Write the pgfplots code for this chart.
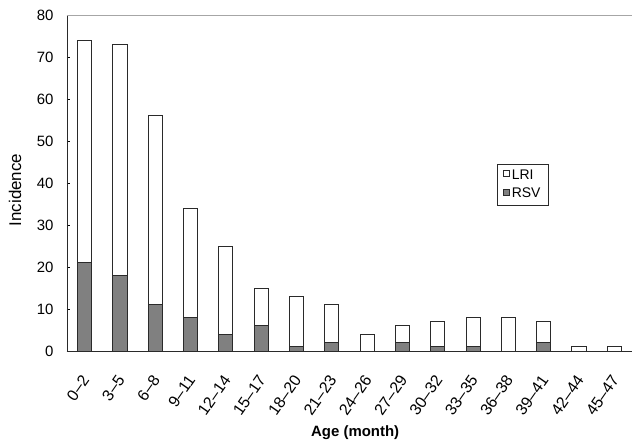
\documentclass[border=0pt]{standalone}
\usepackage{pgfplots}
\pgfplotsset{compat=1.18}
\usepackage{fontspec}
\setmainfont{Liberation Sans}
\definecolor{rsvgray}{HTML}{808080}
\definecolor{edge}{HTML}{2A2A2A}
\begin{document}
\begin{tikzpicture}
\begin{axis}[
  name=ax,
  scale only axis,
  width=565bp, height=336bp,
  xmin=-0.5, xmax=15.5,
  ymin=0, ymax=80,
  ytick={0,10,...,80},
  xtick={0,...,15},
  xticklabels={0--2,3--5,6--8,9--11,12--14,15--17,18--20,21--23,24--26,27--29,30--32,33--35,36--38,39--41,42--44,45--47},
  x tick style={draw=none},
  extra x ticks={0.5,1.5,...,14.5},
  extra x tick labels={},
  extra x tick style={tick style={draw=black,line width=0.8pt}, major tick length=4bp},
  tick align=inside,
  y tick style={black, line width=0.8pt},
  major tick length=3bp,
  axis x line*=bottom,
  axis y line*=left,
  axis line style={edge, line width=1pt, -},
  /pgf/number format/assume math mode=true,
  tick label style={font=\fontsize{15}{15}\selectfont},
  yticklabel style={xshift=-10bp},
  xticklabel style={font=\fontsize{16}{16}\selectfont, yshift=-26bp, xshift=1bp, rotate=55, anchor=east, inner sep=0pt},
  xlabel={\textbf{Age (month)}},
  xlabel style={at={(axis description cs:0.51,0)}, anchor=center, yshift=-82bp, font=\fontsize{15}{15}\selectfont},
  ylabel={Incidence},
  ylabel style={at={(axis description cs:0,0.479)}, anchor=center, yshift=52bp, font=\fontsize{17}{17}\selectfont},
  legend style={at={(0.761,0.557)}, anchor=north west, draw=edge, line width=0.6pt,
    font=\fontsize{14}{14}\selectfont, inner xsep=6bp, inner ysep=4bp, row sep=3bp},
  legend cell align=left,
  legend image code/.code={\draw[#1, line width=0.6pt] (0bp,-1bp) rectangle (6bp,5bp);},
  bar width=0.4,
  clip=false,
]
\draw[gray!70, line width=1pt] (rel axis cs:0,1) -- (rel axis cs:1,1);
\addplot[ybar, bar shift=0pt, fill=white, draw=edge, line width=1pt] coordinates {
(0,74) (1,73) (2,56) (3,34) (4,25) (5,15) (6,13) (7,11) (8,4) (9,6) (10,7) (11,8) (12,8) (13,7) (14,1) (15,1)};
\addlegendentry{LRI}
\addplot[ybar, bar shift=0pt, fill=rsvgray, draw=edge, line width=1pt] coordinates {
(0,21) (1,18) (2,11) (3,8) (4,4) (5,6) (6,1) (7,2) (8,0) (9,2) (10,1) (11,1) (12,0) (13,2) (14,0) (15,0)};
\addlegendentry{RSV}
\coordinate (sw) at (rel axis cs:0,0);
\coordinate (ne) at (rel axis cs:1,1);
\end{axis}
\pgfresetboundingbox
\path (sw) ++(-67bp,-94bp) coordinate (a);
\path (ne) ++(0bp,15bp) coordinate (b);
\path[use as bounding box] (a) rectangle (b);
\end{tikzpicture}
\end{document}
